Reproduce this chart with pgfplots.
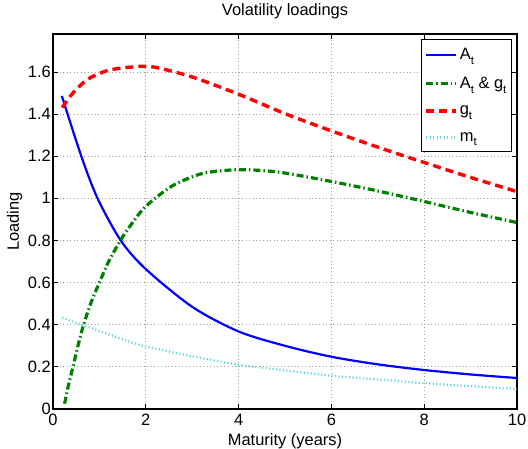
\documentclass[border=0pt]{standalone}
\usepackage{fontspec}
\setmainfont{Liberation Sans}
\usepackage{pgfplots}
\pgfplotsset{compat=1.18}
\definecolor{mgreen}{rgb}{0,0.5,0}
\definecolor{mcyan}{RGB}{100,215,215}
\newcommand{\sub}[1]{\raisebox{-0.55ex}{\fontsize{11.5}{11.5}\selectfont #1}}
\begin{document}
\begin{tikzpicture}[font=\fontsize{16.5}{19.5}\selectfont]
\begin{axis}[
  scale only axis,
  width=464bp, height=375bp,
  xmin=0, xmax=10, ymin=0, ymax=1.78,
  xtick={0,2,4,6,8,10},
  ytick={0,0.2,0.4,0.6,0.8,1,1.2,1.4,1.6},
  /pgf/number format/assume math mode=true,
  ticklabel style={font=\fontsize{16.5}{19.5}\selectfont},
  yticklabel style={inner xsep=2bp},
  xticklabel style={yshift=-2bp},
  tick align=inside,
  major tick length=5bp,
  every tick/.style={black, line width=0.8bp},
  axis line style={line width=1.1bp},
  grid=major,
  grid style={line width=0.8bp, gray!75, dash pattern=on 1bp off 2.5bp},
  title={Volatility loadings},
  title style={at={(axis description cs:0.5,1)}, anchor=base, yshift=13bp, font=\fontsize{16.5}{19.5}\selectfont},
  xlabel={Maturity (years)},
  xlabel style={at={(axis description cs:0.5,0)}, anchor=base, yshift=-36.5bp, font=\fontsize{16.5}{19.5}\selectfont},
  ylabel={Loading},
  every axis y label/.style={at={(axis description cs:0,0.5)}, anchor=base, xshift=-34bp, rotate=90, font=\fontsize{16.5}{19.5}\selectfont},
  legend style={at={(axis description cs:0.989,0.987)}, anchor=north east,
    draw=black, line width=1bp, font=\fontsize{16.5}{19.5}\selectfont,
    row sep=12bp, inner xsep=3bp, inner ysep=7bp, cells={anchor=west}},
  legend image code/.code={\draw[#1] (0bp,0bp) -- (30bp,0bp);},
]
\addplot[blue, line width=2.2bp, smooth] coordinates {
(0.19,1.486) (0.61,1.2) (0.96,1.0) (1.46,0.8) (2,0.664) (3,0.485) (4,0.368) (5,0.300) (6,0.248) (7,0.212) (8,0.185) (9,0.164) (10,0.147)};
\addlegendentry{A\sub{t}}
\addplot[mgreen, line width=3.2bp, dash pattern=on 7bp off 3bp on 1.5bp off 3bp, smooth] coordinates {
(0.25,0.025) (0.33,0.11) (0.43,0.2) (0.55,0.31) (0.66,0.4) (0.82,0.505) (1.0,0.6) (1.2,0.7) (1.47,0.806) (1.7,0.88) (2,0.962)
(2.57,1.059) (3.14,1.113) (3.5,1.128) (4,1.136) (4.5,1.132) (5,1.12) (6,1.08) (7,1.035) (8,0.985) (9,0.933) (10,0.885)};
\addlegendentry{A\sub{t} \& g\sub{t}}
\addplot[red, line width=3.4bp, dash pattern=on 8bp off 5bp, smooth] coordinates {
(0.2,1.431) (0.43,1.5) (0.75,1.565) (1.2,1.608) (1.8,1.625) (2.2,1.622) (3,1.576) (4,1.494) (5,1.402)
(6,1.32) (7,1.243) (8,1.17) (9,1.099) (10,1.032)};
\addlegendentry{g\sub{t}}
\addplot[mcyan, line width=2.2bp, dash pattern=on 1.2bp off 2.3bp, smooth] coordinates {
(0.2,0.433) (0.5,0.41) (1,0.37) (1.72,0.315) (2,0.297) (3,0.25) (4,0.21) (5,0.183) (6,0.158) (7,0.14) (8,0.123) (9,0.108) (10,0.095)};
\addlegendentry{m\sub{t}}
\end{axis}
\pgfresetboundingbox
\path[use as bounding box] ([xshift=-53bp,yshift=-40bp]current axis.south west) rectangle ([xshift=11bp,yshift=34bp]current axis.north east);
\end{tikzpicture}
\end{document}
